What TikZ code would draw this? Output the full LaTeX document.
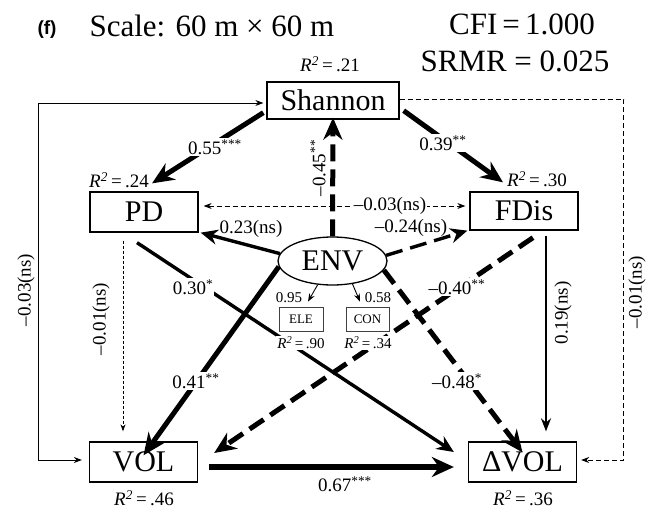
\documentclass[tikz,border=0pt]{standalone}
\usepackage{fontspec}
\setmainfont{Liberation Serif}
\newfontfamily\panelfont{Liberation Sans}
\usetikzlibrary{arrows.meta,shapes.geometric}

\newcommand{\Rsq}[1]{\textit{R}\textsuperscript{\textit{2}}\,=\,#1}

\begin{document}
\begin{tikzpicture}[
  x=1pt, y=-1pt,
  >=Stealth,
  box/.style={draw, line width=1.3pt, inner sep=0pt, minimum width=108pt,
              minimum height=40pt, font=\fontsize{30}{34}\selectfont},
  small box/.style={draw, black!75, text=black, line width=0.8pt, inner sep=0pt,
              minimum width=44pt, minimum height=24pt, font=\fontsize{13}{15}\selectfont},
  coef/.style={fill=white, inner sep=1pt, font=\fontsize{19}{22}\selectfont},
  tiny coef/.style={inner sep=1pt, font=\fontsize{15}{17}\selectfont},
  rsq/.style={inner sep=1pt, font=\fontsize{19}{22}\selectfont},
  heavy/.style={line width=5pt, -{Stealth[length=22pt,width=19pt]}},
  medium/.style={line width=3.4pt, -{Stealth[length=17pt,width=15pt]}},
  light/.style={line width=2.2pt, -{Stealth[length=13pt,width=10pt]}},
  thin arrow/.style={line width=0.9pt, -{Stealth[length=8pt,width=6pt]}},
  long dash/.style={dash pattern=on 17pt off 8pt},
  short dash/.style={dash pattern=on 5pt off 3pt},
]
% Coordinate system: pixels of the 653 x 508 panel, y pointing down
\useasboundingbox (0,0) rectangle (653,508);

% --- Header ---
\node[anchor=base, font=\panelfont\bfseries\fontsize{19}{22}\selectfont] (panel) at (47,35) {(f)};
\node[anchor=base west, font=\fontsize{31}{36}\selectfont] (scale) at (86,37) {Scale: 60 m × 60 m};
\node[anchor=base, font=\fontsize{31}{36}\selectfont] (cfi) at (522,35) {CFI\,=\,1.000};
\node[anchor=base, font=\fontsize{31}{36}\selectfont] (srmr) at (515,72) {SRMR = 0.025};

% --- Variables ---
\node[box, minimum width=132pt, minimum height=37pt] (Shannon) at (333,100.5) {Shannon};
\node[box] (PD)   at (144,212) {PD};
\node[box, minimum height=38pt] (FDis) at (524,211) {FDis};
\node[box] (VOL)  at (143.5,462) {VOL};
\node[box] (dVOL) at (522.5,462) {ΔVOL};
\node[draw, ellipse, line width=1.3pt, inner sep=0pt, minimum width=109pt,
      minimum height=48pt, font=\fontsize{30}{34}\selectfont] (ENV) at (332.5,261) {ENV};
\node[small box] (ELE) at (301,319) {ELE};
\node[small box, minimum width=43pt] (CON) at (367.5,319) {CON};

% --- Long side paths ---
\draw[line width=0.9pt, {Stealth[length=8pt,width=6pt]}-{Stealth[length=8pt,width=6pt]}]
  ([shift={(-3,2.5)}]Shannon.west) -- ++(-225,0) |- ([shift={(-7,-2)}]VOL.west);
\draw[thin arrow, short dash]
  ([yshift=1.5]Shannon.east) -- ++(224,0) |- ([shift={(4,-2)}]dVOL.east);
\draw[line width=0.8pt, dash pattern=on 3pt off 2pt, -{Stealth[length=7pt,width=5pt]}]
  ([shift={(-21,8)}]PD.south) -- ([shift={(-20.5,-10)}]VOL.north);

% --- Paths among the variables ---
\draw[heavy] ([shift={(-3,-7)}]Shannon.south west) -- ([shift={(8,-8)}]PD.north);
\draw[heavy] ([shift={(4,-9)}]Shannon.south east) -- ([shift={(-21,-9)}]FDis.north);
\draw[heavy, long dash] (ENV.north) -- ([yshift=2]Shannon.south);
\draw[line width=0.9pt, short dash, {Stealth[length=8pt,width=6pt]}-{Stealth[length=8pt,width=6pt]}]
  ([shift={(5,-6)}]PD.east) -- ([shift={(-4,-5)}]FDis.west);
\draw[medium] (ENV.172) -- ([xshift=2]PD.south east);
\draw[medium, long dash] (ENV.6) -- ([xshift=-2]FDis.south west);
\draw[thin arrow] (ENV.238) -- ([shift={(7,-5)}]ELE.north);
\draw[thin arrow] (ENV.-49) -- ([shift={(-7.5,-5)}]CON.north);
\draw[medium] ([shift={(-7,10)}]PD.south) -- ([shift={(-14,-10)}]dVOL.west);
\draw[heavy] (ENV.186) -- ([yshift=-14]VOL.north);
\draw[heavy, long dash] ([shift={(9,7)}]FDis.south) -- ([shift={(16,-9)}]VOL.east);
\draw[heavy, long dash] (ENV.-10) -- ([yshift=-11]dVOL.north);
\draw[light] ([shift={(22,5)}]FDis.south) -- ([shift={(23.5,-10)}]dVOL.north);
\draw[line width=6.5pt, -{Stealth[length=22pt,width=20pt]}]
  ([shift={(11,5)}]VOL.east) -- ([shift={(-14,5)}]dVOL.west);

% --- Coefficients ---
\node[coef] (c-sh-pd) at (215,147) {0.55\textsuperscript{***}};
\node[coef] (c-sh-fd) at (443,143) {0.39\textsuperscript{**}};
\node[coef, fill=none, rotate=90] (c-env-sh) at (318,168) {–0.45\textsuperscript{**}};
\node[coef] (c-pd-fd) at (390,206) {–0.03(ns)};
\node[coef, fill=none] (c-env-pd) at (251,229) {0.23(ns)};
\node[coef, fill=none] (c-env-fd) at (411,228) {–0.24(ns)};
\node[tiny coef] (c-env-ele) at (289,298) {0.95};
\node[tiny coef] (c-env-con) at (378,298) {0.58};
\node[coef] (c-pd-dv) at (193,287) {0.30\textsuperscript{*}};
\node[coef] (c-env-vol) at (196,381) {0.41\textsuperscript{**}};
\node[coef] (c-fd-vol) at (457,287) {–0.40\textsuperscript{**}};
\node[coef] (c-env-dv) at (457,381) {–0.48\textsuperscript{*}};
\node[coef, fill=none, rotate=90] (c-fd-dv) at (563,313) {0.19(ns)};
\node[coef, fill=none] (c-vol-dv) at (345,484) {0.67\textsuperscript{***}};
\node[coef, fill=none, rotate=90] (c-sh-vol) at (26,290) {–0.03(ns)};
\node[coef, fill=none, rotate=90] (c-sh-dv) at (637,292) {–0.01(ns)};
\node[coef, fill=none, rotate=90] (c-pd-vol) at (101,319) {–0.01(ns)};

% --- Explained variance ---
\node[rsq, anchor=base] (r-sh) at (330,72) {\Rsq{.21}};
\node[rsq] (r-pd)  at (119,180) {\Rsq{.24}};
\node[rsq] (r-fd)  at (537,179) {\Rsq{.30}};
\node[rsq] (r-vol) at (144,498) {\Rsq{.46}};
\node[rsq] (r-dv)  at (523,498) {\Rsq{.36}};
\node[rsq, fill=white, font=\fontsize{15}{17}\selectfont] (r-ele) at (301,343) {\Rsq{.90}};
\node[rsq, fill=white, font=\fontsize{15}{17}\selectfont] (r-con) at (368,343) {\Rsq{.34}};

\end{tikzpicture}
\end{document}
